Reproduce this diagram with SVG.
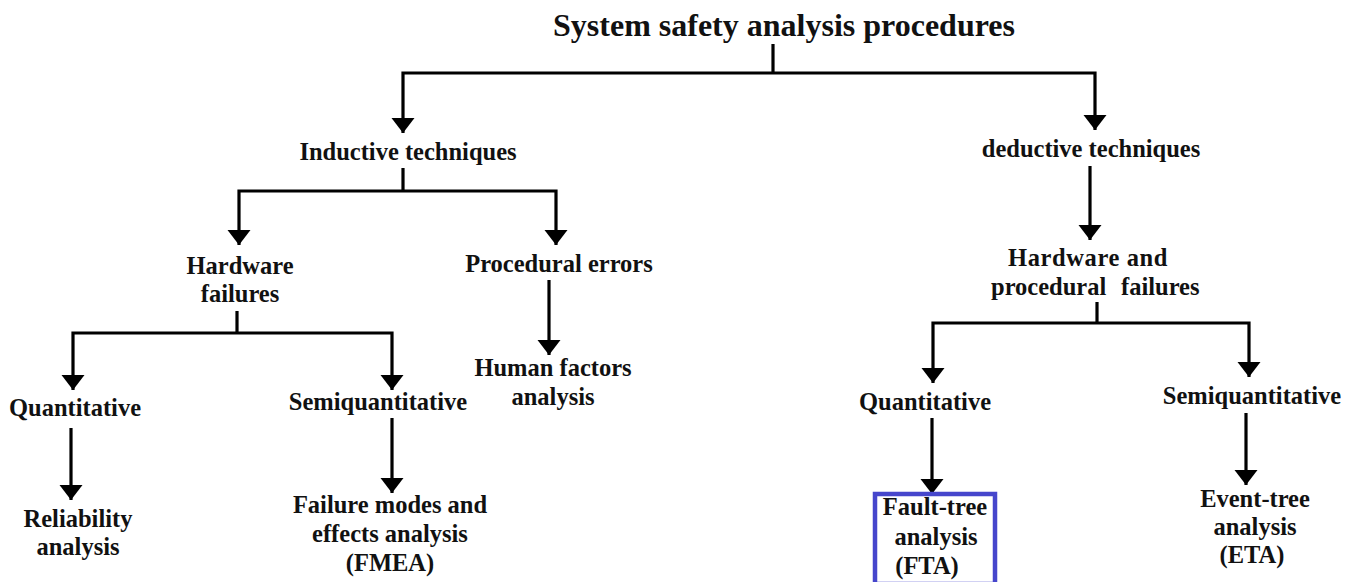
<svg xmlns="http://www.w3.org/2000/svg" width="1358" height="582" viewBox="0 0 1358 582">
  <style>
    text { font-family: "Liberation Serif", "Times New Roman", serif; font-weight: bold; fill: #111; text-anchor: middle; }
    .t { font-size: 24.5px; }
    .title { font-size: 32px; }
    .start { text-anchor: start; }
    .conn { fill: none; stroke: #000; stroke-width: 3.2; }
  </style>
  <defs>
    <marker id="arrow" markerUnits="userSpaceOnUse" markerWidth="16" markerHeight="24" viewBox="0 -12 16 24" refX="15" refY="0" orient="auto">
      <path d="M0,-11.5 L15,0 L0,11.5 z" fill="#000"/>
    </marker>
  </defs>
  <rect width="1358" height="582" fill="#fff"/>

  <!-- connectors -->
  <g id="connectors" class="conn">
    <path d="M773,44 V73"/>
    <path d="M773,73 H403 V133" marker-end="url(#arrow)"/>
    <path d="M773,73 H1095 V130" marker-end="url(#arrow)"/>

    <path d="M403,168 V191"/>
    <path d="M403,191 H239 V245" marker-end="url(#arrow)"/>
    <path d="M403,191 H556 V245" marker-end="url(#arrow)"/>

    <path d="M1090,166 V240" marker-end="url(#arrow)"/>

    <path d="M549,280 V355" marker-end="url(#arrow)"/>

    <path d="M237,311 V333"/>
    <path d="M237,333 H73 V390" marker-end="url(#arrow)"/>
    <path d="M237,333 H392 V390" marker-end="url(#arrow)"/>

    <path d="M1097,302 V323"/>
    <path d="M1097,323 H933 V383" marker-end="url(#arrow)"/>
    <path d="M1097,323 H1249 V377" marker-end="url(#arrow)"/>

    <path d="M71,428 V500" marker-end="url(#arrow)"/>
    <path d="M392,418 V493" marker-end="url(#arrow)"/>
    <path d="M932,418 V494" marker-end="url(#arrow)"/>
    <path d="M1246,413 V485" marker-end="url(#arrow)"/>
  </g>

  <g id="root">
    <text class="title" x="784" y="36">System safety analysis procedures</text>
  </g>
  <g id="inductive">
    <text class="t" x="408" y="160">Inductive techniques</text>
  </g>
  <g id="deductive">
    <text class="t" x="1091" y="157">deductive techniques</text>
  </g>
  <g id="hardware-failures">
    <text class="t" x="240" y="274">Hardware</text>
    <text class="t" x="240" y="302">failures</text>
  </g>
  <g id="procedural-errors">
    <text class="t" x="559" y="272">Procedural errors</text>
  </g>
  <g id="human-factors">
    <text class="t" x="553" y="376">Human factors</text>
    <text class="t" x="553" y="405">analysis</text>
  </g>
  <g id="hw-proc-failures">
    <text class="t" x="1088" y="266" letter-spacing="0.6">Hardware and</text>
    <text class="t start" x="991" y="295">procedural</text>
    <text class="t start" x="1121" y="295">failures</text>
  </g>
  <g id="quant-left">
    <text class="t" x="75" y="416">Quantitative</text>
  </g>
  <g id="semi-left">
    <text class="t" x="378" y="410">Semiquantitative</text>
  </g>
  <g id="quant-right">
    <text class="t" x="925" y="410">Quantitative</text>
  </g>
  <g id="semi-right">
    <text class="t" x="1252" y="404">Semiquantitative</text>
  </g>
  <g id="reliability">
    <text class="t" x="78" y="527">Reliability</text>
    <text class="t" x="78" y="555">analysis</text>
  </g>
  <g id="fmea">
    <text class="t" x="390" y="513">Failure modes and</text>
    <text class="t" x="390" y="542">effects analysis</text>
    <text class="t" x="390" y="571">(FMEA)</text>
  </g>
  <g id="fta">
    <rect x="875" y="494" width="120" height="90" fill="none" stroke="#4646cc" stroke-width="4.5"/>
    <text class="t" x="935" y="515">Fault-tree</text>
    <text class="t" x="936" y="545">analysis</text>
    <text class="t" x="927" y="574">(FTA)</text>
  </g>
  <g id="eta">
    <text class="t" x="1255" y="507">Event-tree</text>
    <text class="t" x="1255" y="535">analysis</text>
    <text class="t" x="1252" y="563">(ETA)</text>
  </g>
</svg>
